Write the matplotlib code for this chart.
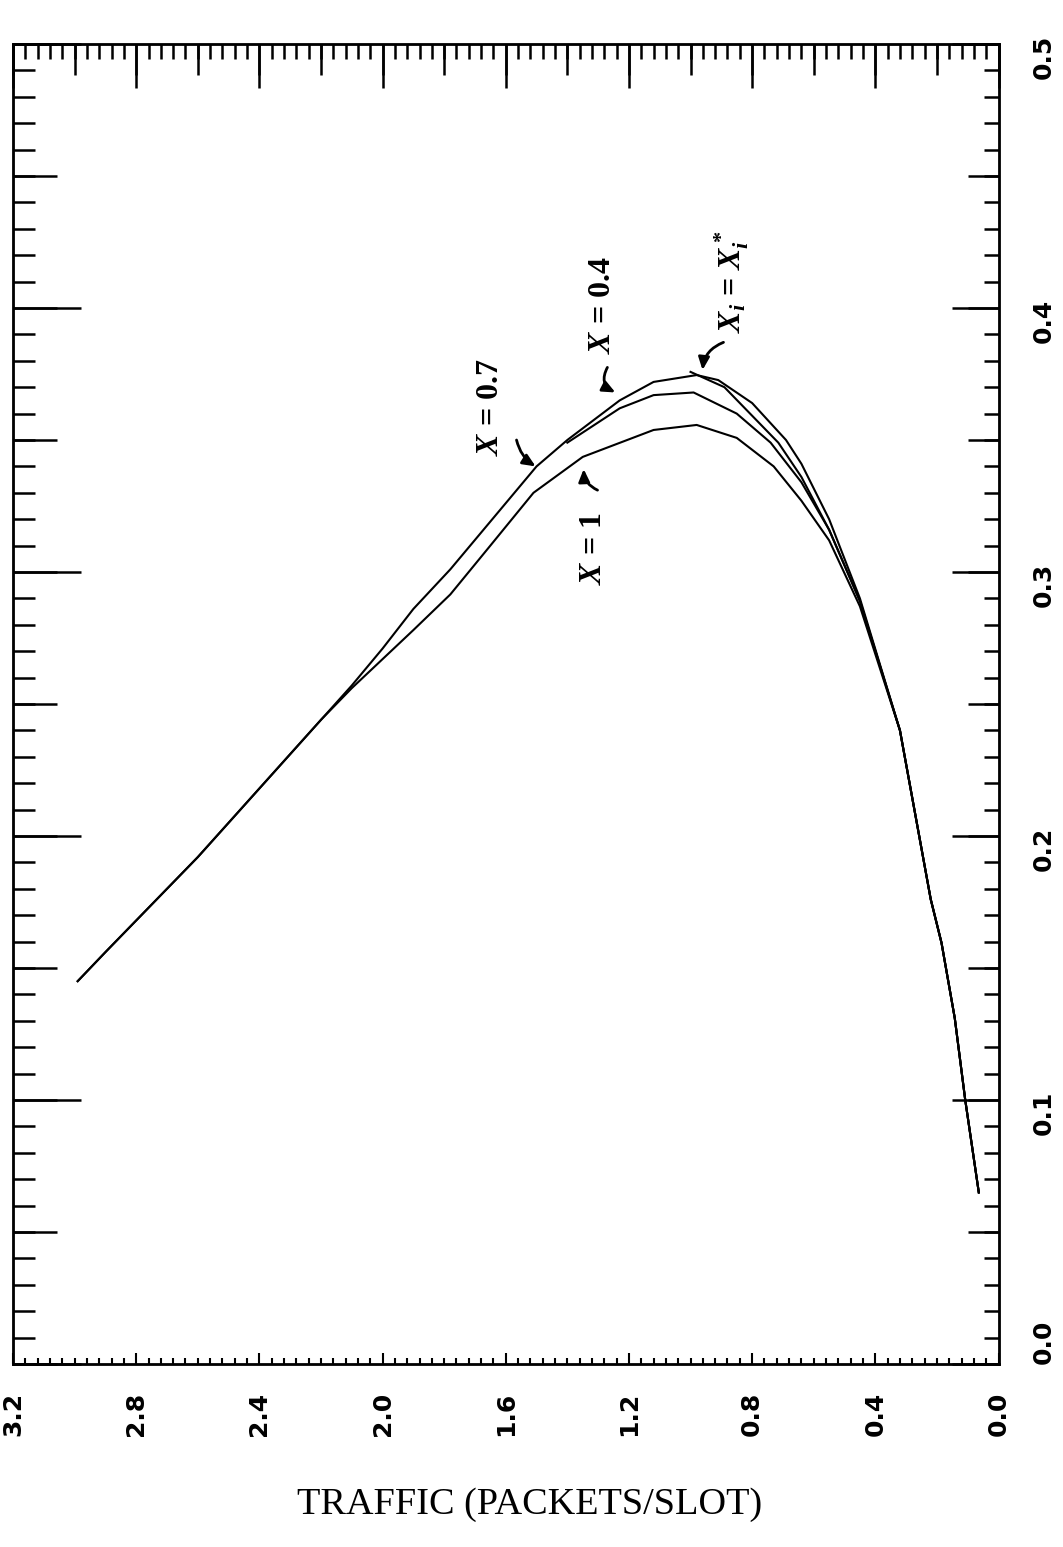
import matplotlib
matplotlib.use("Agg")
import matplotlib.pyplot as plt
from matplotlib.ticker import MultipleLocator

plt.rcParams['mathtext.fontset'] = 'custom'
plt.rcParams['mathtext.it'] = 'Liberation Serif:italic:bold'
plt.rcParams['mathtext.rm'] = 'Liberation Serif:bold'
plt.rcParams['mathtext.bf'] = 'Liberation Serif:bold'

# ---------------- data (traffic G, throughput S) ----------------
traffic_x07 = [2.99, 2.90, 2.80, 2.70, 2.60, 2.50, 2.40, 2.30, 2.20, 2.10, 2.00,
               1.90, 1.78, 1.50, 1.40, 1.23, 1.12, 0.98, 0.91, 0.80, 0.69, 0.64,
               0.55, 0.45, 0.32, 0.22, 0.185, 0.142, 0.108, 0.064]
thru_x07 = [0.145, 0.156, 0.168, 0.180, 0.192, 0.205, 0.218, 0.231, 0.244, 0.257,
            0.271, 0.286, 0.301, 0.340, 0.350, 0.365, 0.372, 0.3746, 0.3727, 0.364,
            0.350, 0.341, 0.320, 0.290, 0.240, 0.176, 0.1595, 0.131, 0.100, 0.065]

traffic_x04 = [1.40, 1.23, 1.12, 0.99, 0.85, 0.74, 0.64, 0.55, 0.45, 0.32, 0.22,
               0.185, 0.142, 0.108, 0.064]
thru_x04 = [0.349, 0.362, 0.367, 0.368, 0.360, 0.349, 0.334, 0.316, 0.289, 0.240,
            0.176, 0.1595, 0.131, 0.100, 0.065]

traffic_x1 = [2.99, 2.90, 2.80, 2.70, 2.60, 2.50, 2.40, 2.30, 2.20, 2.10, 2.00,
              1.90, 1.78, 1.65, 1.51, 1.35, 1.12, 0.98, 0.85, 0.73, 0.64, 0.55,
              0.45, 0.32, 0.22, 0.185, 0.142, 0.108, 0.064]
thru_x1 = [0.145, 0.156, 0.168, 0.180, 0.192, 0.205, 0.218, 0.231, 0.244, 0.256,
           0.267, 0.278, 0.2915, 0.310, 0.330, 0.3436, 0.3538, 0.3557, 0.3508, 0.340,
           0.327, 0.312, 0.287, 0.240, 0.176, 0.1595, 0.131, 0.100, 0.065]

traffic_opt = [1.00, 0.89, 0.715, 0.64, 0.55, 0.45, 0.32, 0.22, 0.185, 0.142,
               0.108, 0.064]
thru_opt = [0.3758, 0.370, 0.349, 0.336, 0.316, 0.289, 0.240, 0.176, 0.1595, 0.131,
            0.100, 0.065]

traffic_ticks = [0.0, 0.4, 0.8, 1.2, 1.6, 2.0, 2.4, 2.8, 3.2]
traffic_labels = ['0.0', '0.4', '0.8', '1.2', '1.6', '2.0', '2.4', '2.8', '3.2']
thru_ticks = [0.0, 0.1, 0.2, 0.3, 0.4, 0.5]
thru_labels = ['0.0', '0.1', '0.2', '0.3', '0.4', '0.5']

# ---------------- figure ----------------
fig = plt.figure(figsize=(10.63, 15.47), dpi=100)
ax = fig.add_axes([13 / 1063, 1 - 1364 / 1547, 985.5 / 1063, 1320 / 1547])
ax.set_xlim(3.2, 0.0)
ax.set_ylim(0.0, 0.5)
ax.tick_params(which='both', left=False, right=False, top=False, bottom=False,
               labelleft=False, labelbottom=False)
for sp in ax.spines.values():
    sp.set_linewidth(2.0)

tw = 1.8
lab_kw = dict(fontfamily='DejaVu Sans', fontweight='bold', fontsize=18, rotation=90)

# left spine ticks
sl1 = ax.secondary_yaxis('left')
sl1.set_ticks(thru_ticks)
sl1.yaxis.set_minor_locator(MultipleLocator(0.01))
sl1.tick_params(which='major', direction='in', length=49, width=tw, labelleft=False)
sl1.tick_params(which='minor', direction='in', length=16, width=tw)
sl2 = ax.secondary_yaxis('left')
sl2.yaxis.set_major_locator(MultipleLocator(0.05))
sl2.tick_params(which='major', direction='in', length=32, width=tw, labelleft=False)

# right spine ticks + labels
sr1 = ax.secondary_yaxis('right')
sr1.set_ticks(thru_ticks, thru_labels, **lab_kw)
sr1.yaxis.set_minor_locator(MultipleLocator(0.01))
sr1.tick_params(which='major', direction='in', length=34, width=tw, pad=24)
sr1.tick_params(which='minor', direction='in', length=11, width=tw)
sr1.get_yticklabels()[0].set_va('bottom')
sr2 = ax.secondary_yaxis('right')
sr2.yaxis.set_major_locator(MultipleLocator(0.05))
sr2.tick_params(which='major', direction='in', length=22, width=tw, labelright=False)

# top spine ticks
st1 = ax.secondary_xaxis('top')
st1.set_ticks(traffic_ticks)
st1.xaxis.set_minor_locator(MultipleLocator(0.04))
st1.tick_params(which='major', direction='in', length=32, width=tw, labeltop=False)
st1.tick_params(which='minor', direction='in', length=11, width=tw)
st2 = ax.secondary_xaxis('top')
st2.xaxis.set_major_locator(MultipleLocator(0.2))
st2.tick_params(which='major', direction='in', length=22, width=tw, labeltop=False)

# bottom spine ticks + labels
sb = ax.secondary_xaxis('bottom')
sb.set_ticks(traffic_ticks, traffic_labels, **lab_kw)
sb.xaxis.set_minor_locator(MultipleLocator(0.04))
sb.tick_params(which='major', direction='in', length=8, width=1.5, pad=20)
sb.tick_params(which='minor', direction='in', length=4, width=1.5)

# curves
line_kw = dict(color='black', lw=1.5, solid_joinstyle='round')
ax.plot(traffic_x07, thru_x07, **line_kw)
ax.plot(traffic_x04, thru_x04, **line_kw)
ax.plot(traffic_x1, thru_x1, **line_kw)
ax.plot(traffic_opt, thru_opt, **line_kw)

# annotations
txt_kw = dict(fontfamily='Liberation Serif', fontweight='bold', fontsize=23,
              rotation=90, ha='center', va='center', color='black')
arr_kw = dict(arrowstyle='-|>,head_length=0.5,head_width=0.22', color='black',
              lw=2, shrinkA=0, shrinkB=0, mutation_scale=15)

ax.text(1.649, 0.3625, r'$X$ = 0.7', **txt_kw)
ax.annotate('', xy=(1.503, 0.340), xytext=(1.565, 0.350),
            arrowprops=dict(connectionstyle='arc3,rad=0.2', **arr_kw))

ax.text(1.285, 0.401, r'$X$ = 0.4', **txt_kw)
ax.annotate('', xy=(1.244, 0.368), xytext=(1.270, 0.3775),
            arrowprops=dict(connectionstyle='arc3,rad=0.5', **arr_kw))

ax.text(0.864, 0.410, r'$X_i$ = $X_i^*$', **txt_kw)
ax.annotate('', xy=(0.961, 0.3765), xytext=(0.893, 0.387),
            arrowprops=dict(connectionstyle='arc3,rad=0.3', **arr_kw))

ax.text(1.315, 0.309, r'$X$ = 1', **txt_kw)
ax.annotate('', xy=(1.347, 0.339), xytext=(1.302, 0.331),
            arrowprops=dict(connectionstyle='arc3,rad=-0.3', **arr_kw))

fig.text(530 / 1063, 1 - 1505 / 1547, 'TRAFFIC (PACKETS/SLOT)',
         fontfamily='Liberation Serif', fontsize=27.5, ha='center', va='center')

fig.savefig('out.png', dpi=100)
